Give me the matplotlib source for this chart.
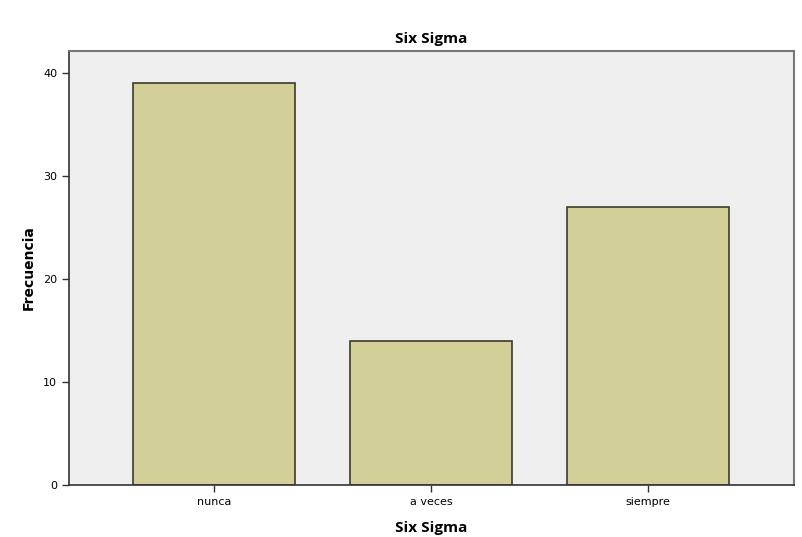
import matplotlib.pyplot as plt

# Data
categorias = ["nunca", "a veces", "siempre"]
frecuencias = [39, 14, 27]
y_ticks = [0, 10, 20, 30, 40]

fig = plt.figure(figsize=(8.02, 5.37), dpi=100)
ax = fig.add_axes([0.086, 0.097, 0.904, 0.808])
ax.set_facecolor("#efefef")

x = list(range(len(categorias)))
ax.bar(x, frecuencias, width=0.75, color="#d3cf98", edgecolor="#3b3b2c", linewidth=1.2)

ax.set_xlim(-0.668, 2.673)
ax.set_ylim(0, 42.1)
ax.set_yticks(y_ticks)
ax.set_xticks(x)
ax.set_xticklabels(categorias, fontsize=8)
ax.tick_params(axis="y", labelsize=8, length=5, width=1, color="#333333")
ax.tick_params(axis="x", length=5, width=1, color="#333333")

for side in ["left", "bottom"]:
    ax.spines[side].set_color("#333333")
    ax.spines[side].set_linewidth(1.2)
for side in ["top", "right"]:
    ax.spines[side].set_color("#777777")
    ax.spines[side].set_linewidth(1.5)

ax.set_title("Six Sigma", fontsize=11, fontweight="bold", family="Open Sans", pad=6)
ax.set_xlabel("Six Sigma", fontsize=11, fontweight="bold", family="Open Sans", labelpad=10)
ax.set_ylabel("Frecuencia", fontsize=10, fontweight="bold", labelpad=5)

fig.savefig("out.png", dpi=100)
